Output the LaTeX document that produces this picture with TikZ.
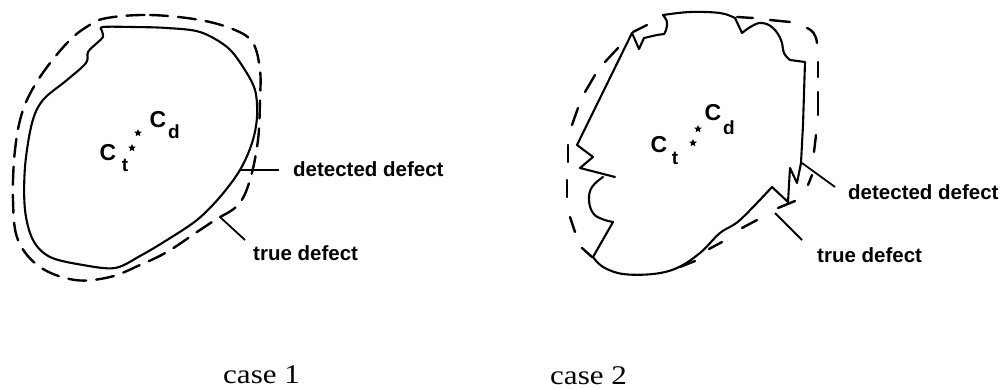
\documentclass[tikz,border=0pt]{standalone}
\usepackage{fontspec}
\setmainfont{Liberation Serif}
\newfontfamily\lblfont{Liberation Sans}
\usetikzlibrary{shapes.geometric}
\tikzset{
  solidline/.style={line width=2.1pt, line join=round, line cap=round},
  dashline/.style={line width=2.4pt, line cap=round},
  leader/.style={line width=1.8pt},
  lbl/.style={inner sep=0pt, anchor=base west, font=\lblfont\bfseries\fontsize{20.5}{22}\selectfont},
  bigC/.style={inner sep=0pt, font=\lblfont\bfseries\fontsize{23}{24}\selectfont},
  subs/.style={inner sep=0pt, font=\lblfont\bfseries\fontsize{19}{20}\selectfont},
  starmark/.style={star, star points=5, star point ratio=2.2, fill=black, inner sep=0pt, minimum size=8pt},
  caption/.style={inner sep=0pt, anchor=base west, font=\fontsize{27}{30}\selectfont}
}
\begin{document}
\begin{tikzpicture}[x=1pt,y=-1pt]
\useasboundingbox (0,0) rectangle (1004,390);

% ---------------- case 1 ----------------
% detected defect (solid)
\draw[solidline] plot[smooth cycle, tension=0.55] coordinates {
 (103,27) (133,27) (167,28) (200,32) (227,47) (243,67) (255,90) (257,117)
 (252,143) (240,170) (220,197) (197,220) (167,240) (140,256) (115,268)
 (83,265) (50,257) (33,240) (25,210) (25,167) (32,123) (43,100) (67,80)
 (86,63) (88,52) (97,43) (103,37) (102,31)};
% true defect (dashed)
\draw[dashline, dash pattern=on 18pt off 10pt] plot[smooth cycle, tension=0.6] coordinates {
 (107,18) (150,15) (200,20) (235,30) (253,43) (260,70) (260,100) (258,140)
 (250,180) (238,205) (215,220) (197,232) (167,252) (140,265) (110,277)
 (75,280) (40,267) (18,240) (13,200) (15,150) (23,110) (40,77) (67,43) (88,26)};

\node[bigC] (c1C) at (108,153) {C};
\node[subs] (c1t) at (125,165) {t};
\node[starmark] (c1s1) at (132,148) {};
\node[starmark] (c1s2) at (138,133) {};
\node[bigC] (c1D) at (158,120) {C};
\node[subs] (c1d) at (174,132) {d};

\node[lbl] (det1) at (293,177) {detected defect};
\node[lbl] (tru1) at (253,260) {true defect};
\coordinate (det1a) at (240,170);
\coordinate (det1b) at (279,170);
\coordinate (tru1a) at (220,217);
\coordinate (tru1b) at (245,240);
\draw[leader] (det1a) -- (det1b);
\draw[leader] (tru1a) -- (tru1b);

% ---------------- case 2 ----------------
\draw[solidline] (632,33) -- (577,145) -- (593,157) -- (580,168) -- (615,177);
\draw[solidline] plot[smooth, tension=0.7] coordinates {(603,177) (592,187) (589,200) (593,213) (602,219) (613,222)}
  -- (593,257)
  -- plot[smooth, tension=0.6] coordinates {(593,257) (603,267) (623,274) (653,274) (677,268) (700,253) (720,233) (740,220) (772,187)}
  -- (788,202) -- (790,168) -- (797,183) -- (801,163) -- (803,125) -- (805,62) -- (790,60)
  -- plot[smooth, tension=0.7] coordinates {(790,60) (784,53) (781,40) (773,28) (762,23) (752,26) (742,33)}
  -- (735,18)
  -- plot[smooth, tension=0.6] coordinates {(735,18) (720,13) (690,12) (663,15)}
  -- plot[smooth, tension=0.7] coordinates {(663,15) (667,22) (666,30) (664,34)}
  -- (657,35) -- (644,38) -- (639,49) -- (632,33);

% true defect dashes (case 2)
\draw[dashline] (633,32) -- (647,25);
\draw[dashline] (618,48) -- (605,62);
\draw[dashline] (595,75) -- (585,92);
\draw[dashline] (578,108) -- (572,125);
\draw[dashline] (568,145) -- (568,162);
\draw[dashline] (567,180) -- (567,197);
\draw[dashline] (570,217) -- (575,232);
\draw[dashline] (582,248) -- (592,257);
\draw[dashline] (680,267) -- (695,261);
\draw[dashline] (709,249) -- (722,242);
\draw[dashline] (742,228) -- (757,220);
\draw[dashline] (778,208) -- (795,201);
\draw[dashline] (808,185) -- (812,175);
\draw[dashline] (814,152) -- (816,135);
\draw[dashline] (818,115) -- (818,92);
\draw[dashline] (818,77) -- (818,62);
\draw[dashline] (817,43) .. controls (816,34) and (812,30) .. (807,28);
\draw[dashline] (790,22) -- (770,20);
\draw[dashline] (753,18) -- (737,17);

\node[bigC] (c2C) at (659,145) {C};
\node[subs] (c2t) at (675,158) {t};
\node[starmark] (c2s1) at (693,143) {};
\node[starmark] (c2s2) at (698,129) {};
\node[bigC] (c2D) at (713,113) {C};
\node[subs] (c2d) at (729,128) {d};

\node[lbl] (det2) at (848,200) {detected defect};
\node[lbl] (tru2) at (817,262) {true defect};
\coordinate (det2a) at (802,163);
\coordinate (det2b) at (835,187);
\coordinate (tru2a) at (775,213);
\coordinate (tru2b) at (802,240);
\draw[leader] (det2a) -- (det2b);
\draw[leader] (tru2a) -- (tru2b);

% captions
\node[caption] (cap1) at (223,383) {\scalebox{1.15}[1]{case 1}};
\node[caption] (cap2) at (550,384) {\scalebox{1.15}[1]{case 2}};
\end{tikzpicture}
\end{document}
